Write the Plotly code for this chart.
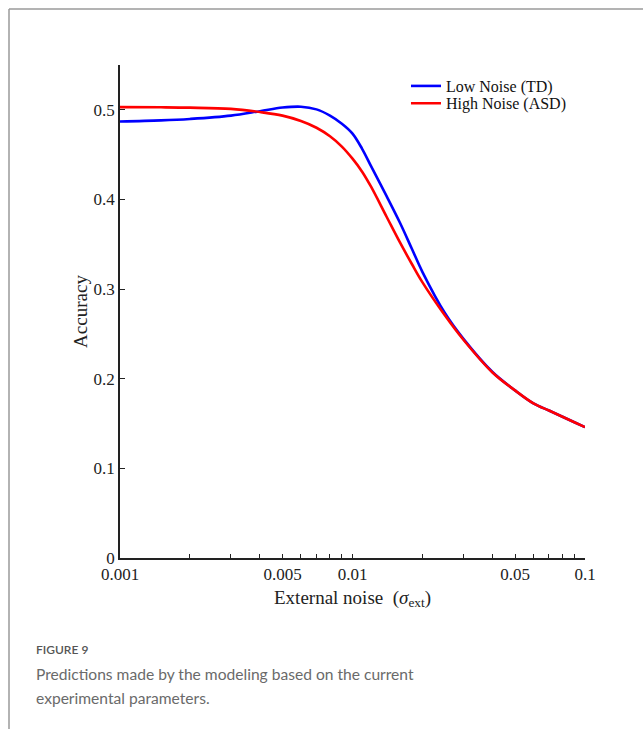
import plotly.graph_objects as go

# Data
noise = [0.001, 0.0015, 0.002, 0.003, 0.004, 0.005, 0.006, 0.007, 0.008, 0.009,
         0.01, 0.011, 0.012, 0.014, 0.016, 0.018, 0.02, 0.025, 0.03, 0.04, 0.05,
         0.06, 0.07, 0.08, 0.09, 0.1]
low_noise_td = [0.487, 0.4882, 0.4898, 0.4935, 0.4985, 0.5025, 0.5035, 0.5005, 0.4935, 0.4845,
                0.4735, 0.4565, 0.4375, 0.404, 0.374, 0.345, 0.319, 0.273, 0.2445, 0.2075, 0.187,
                0.1725, 0.1645, 0.1576, 0.1515, 0.146]
high_noise_asd = [0.503, 0.5028, 0.5024, 0.501, 0.4975, 0.4935, 0.4875, 0.480, 0.4705, 0.459,
                  0.4455, 0.431, 0.4145, 0.381, 0.352, 0.328, 0.3075, 0.2705, 0.2435, 0.207, 0.187,
                  0.1725, 0.1645, 0.1576, 0.1515, 0.146]

x_tickvals = [0.001, 0.005, 0.01, 0.05, 0.1]
x_ticktext = ["0.001", "0.005", "0.01", "0.05", "0.1"]
x_minor_tickvals = [0.002, 0.003, 0.004, 0.006, 0.007, 0.008, 0.009,
                    0.02, 0.03, 0.04, 0.06, 0.07, 0.08, 0.09]
y_tickvals = [0, 0.1, 0.2, 0.3, 0.4, 0.5]
y_ticktext = ["0", "0.1", "0.2", "0.3", "0.4", "0.5"]

serif = "Liberation Serif, Times New Roman, serif"
sans = "Lato, Open Sans, sans-serif"

fig = go.Figure()
fig.add_trace(go.Scatter(x=noise, y=low_noise_td, mode="lines", name="Low Noise (TD)",
                         legend="legend",
                         line=dict(color="#0000FF", width=2.6, shape="spline", smoothing=1.0)))
fig.add_trace(go.Scatter(x=noise, y=high_noise_asd, mode="lines", name="High Noise (ASD)",
                         legend="legend2",
                         line=dict(color="#FF0000", width=2.6, shape="spline", smoothing=1.0)))

axis_common = dict(showline=True, linecolor="#222222", linewidth=1.6, ticks="inside",
                   tickcolor="#222222", tickwidth=1.4, showgrid=False, zeroline=False,
                   mirror=False, tickfont=dict(family=serif, size=17, color="#222222"))

fig.update_xaxes(type="log", range=[-3, -1], tickmode="array", tickvals=x_tickvals,
                 ticktext=x_ticktext, ticklen=4,
                 minor=dict(tickmode="array", tickvals=x_minor_tickvals, ticks="inside",
                            ticklen=4, tickwidth=1.4, tickcolor="#222222", showgrid=False),
                 title=dict(text="External noise  (<i>σ</i><sub>ext</sub>)",
                            font=dict(family=serif, size=19, color="#222222"), standoff=7),
                 **axis_common)
fig.update_yaxes(range=[0, 0.55], tickmode="array", tickvals=y_tickvals, ticktext=y_ticktext,
                 ticklen=5,
                 title=dict(text="Accuracy", font=dict(family=serif, size=19, color="#222222"),
                            standoff=1),
                 **axis_common)

legend_common = dict(xanchor="left", yanchor="middle", bgcolor="rgba(0,0,0,0)",
                     font=dict(family=serif, size=16, color="#111111"), borderwidth=0)

fig.update_layout(
    width=643, height=729,
    margin=dict(l=120, r=58, t=65, b=171.3, pad=0),
    paper_bgcolor="white", plot_bgcolor="white",
    showlegend=True,
    legend=dict(x=0.615, y=(557.7 - 86) / 492.7, **legend_common),
    legend2=dict(x=0.615, y=(557.7 - 103.3) / 492.7, **legend_common),
    shapes=[
        dict(type="line", xref="paper", yref="paper", x0=-0.2387, x1=1.2, y0=1.1137, y1=1.1137,
             line=dict(color="#9a9a9a", width=1.5)),
        dict(type="line", xref="paper", yref="paper", x0=-0.2387, x1=-0.2387, y0=1.1137, y1=-0.36,
             line=dict(color="#9a9a9a", width=1.5)),
    ],
    annotations=[
        dict(text="FIGURE 9", xref="paper", yref="paper", x=(34 - 120) / 465, y=-0.1853,
             xanchor="left", yanchor="middle", showarrow=False,
             font=dict(family=sans, size=12, color="#555555", weight=600)),
        dict(text="Predictions made by the modeling based on the current", xref="paper",
             yref="paper", x=(34 - 120) / 465, y=(557.7 - 673.5) / 492.7, xanchor="left",
             yanchor="middle", showarrow=False,
             font=dict(family=sans, size=15.6, color="#6a6a6a")),
        dict(text="experimental parameters.", xref="paper",
             yref="paper", x=(34 - 120) / 465, y=(557.7 - 698) / 492.7, xanchor="left",
             yanchor="middle", showarrow=False,
             font=dict(family=sans, size=15.6, color="#6a6a6a")),
    ],
)

fig.write_html("out.html")
